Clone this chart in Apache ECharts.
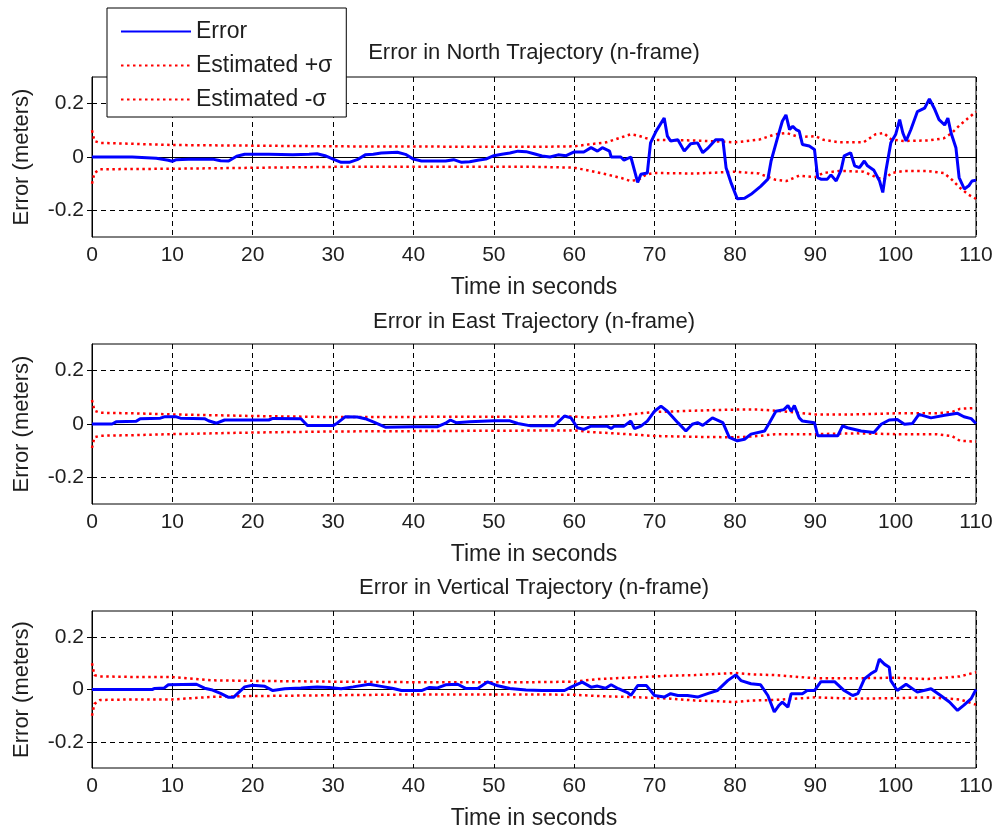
<!DOCTYPE html>
<html>
<head>
<meta charset="utf-8">
<title>Trajectory errors (n-frame)</title>
<script src="https://cdn.jsdelivr.net/npm/echarts@6/dist/echarts.min.js"></script>
<style>
  html, body { margin: 0; padding: 0; background: #fff; }
  #chart { width: 998px; height: 831px; }
</style>
</head>
<body>
<div id="chart"></div>
<script>
// ---- North ----
const northT = [0, 5, 5.2, 8, 8.2, 9.5, 10, 10.5, 12, 15, 16, 17, 18, 19, 22, 25, 27, 28, 29, 30, 31, 32, 33, 34, 35, 36, 38, 39, 40, 41, 44, 45, 46, 47, 48, 49, 50, 51, 52, 53, 54, 55, 56, 57, 58, 59, 60, 61.2, 62.1, 62.9, 63.5, 64.4, 64.6, 65.8, 66.2, 67.05, 67.5, 67.9, 68.3, 69.1, 69.5, 70.2, 71.2, 71.6, 72, 72.9, 73.7, 74.5, 75.35, 76, 76.6, 77.6, 78.5, 78.9, 79.5, 80.3, 81.2, 82, 83.2, 84.1, 84.5, 85.3, 85.9, 86.35, 86.8, 87.2, 87.6, 88, 88.4, 89.25, 89.9, 90.3, 90.7, 91.5, 91.95, 92.6, 93.2, 93.6, 94.4, 94.9, 95.5, 96.1, 96.5, 97.3, 98, 98.4, 98.8, 99.4, 100, 100.5, 100.9, 101.3, 101.9, 102.7, 103.6, 104.2, 104.8, 105.4, 106.1, 106.5, 106.9, 107.5, 107.9, 108.55, 109.1, 109.5, 110];
const northErr = [0, 0, -0.005, -0.005, -0.01, -0.012, -0.016, -0.01, -0.008, -0.008, -0.014, -0.015, 0.003, 0.01, 0.01, 0.008, 0.01, 0.012, 0.005, -0.008, -0.02, -0.02, -0.01, 0.008, 0.01, 0.015, 0.018, 0.01, -0.008, -0.015, -0.015, -0.01, -0.02, -0.018, -0.012, -0.008, 0.005, 0.01, 0.015, 0.022, 0.02, 0.012, 0.004, 0, 0.008, 0.005, 0.019, 0.019, 0.035, 0.022, 0.035, 0.022, 0, 0, -0.012, 0, -0.05, -0.095, -0.065, -0.06, 0.053, 0.097, 0.146, 0.078, 0.06, 0.065, 0.022, 0.05, 0.053, 0.016, 0.032, 0.065, 0.065, -0.04, -0.095, -0.157, -0.155, -0.14, -0.11, -0.083, -0.015, 0.072, 0.134, 0.158, 0.103, 0.115, 0.103, 0.097, 0.047, 0.041, 0.028, -0.077, -0.083, -0.083, -0.067, -0.09, -0.05, 0.004, 0.016, -0.033, -0.04, -0.015, -0.033, -0.05, -0.09, -0.133, -0.05, 0.053, 0.084, 0.14, 0.09, 0.06, 0.103, 0.17, 0.183, 0.218, 0.183, 0.14, 0.12, 0.146, 0.09, 0.035, -0.077, -0.12, -0.108, -0.09, -0.087];
const northSigT = [0, 0.3, 1, 10, 30, 55, 60, 62, 64, 66, 67, 68, 69, 70, 75, 78, 80, 83, 85, 86.4, 88, 90, 91, 93, 96, 97.5, 98.5, 99.5, 101, 104, 106, 107, 108, 109, 110];
const northSigUp = [0.1, 0.06, 0.053, 0.045, 0.04, 0.038, 0.04, 0.048, 0.055, 0.075, 0.085, 0.08, 0.07, 0.064, 0.062, 0.058, 0.055, 0.065, 0.085, 0.09, 0.075, 0.078, 0.065, 0.055, 0.055, 0.085, 0.09, 0.065, 0.06, 0.062, 0.07, 0.09, 0.12, 0.145, 0.17];
const northSigLo = [-0.1, -0.06, -0.046, -0.044, -0.037, -0.037, -0.04, -0.052, -0.065, -0.08, -0.09, -0.085, -0.065, -0.06, -0.062, -0.058, -0.055, -0.062, -0.085, -0.09, -0.07, -0.075, -0.06, -0.052, -0.055, -0.075, -0.085, -0.06, -0.052, -0.053, -0.06, -0.085, -0.115, -0.14, -0.157];

// ---- East ----
const eastT = [0, 2.5, 3, 5.5, 6, 8.5, 9, 10.5, 11, 14, 14.5, 15.5, 16.5, 22, 22.5, 26, 26.8, 30, 30.5, 31.5, 33, 34, 35, 36.5, 40, 43, 44, 44.6, 45.3, 47, 50, 52, 53, 54.6, 57.5, 58.8, 59.6, 60.4, 61.2, 62.1, 64.1, 64.6, 65, 66.2, 67.05, 67.5, 68.3, 69.1, 70, 70.8, 71.6, 72.9, 73.9, 74.7, 75.35, 76, 77.2, 78.5, 79.3, 80.3, 81.2, 82, 83.7, 84.3, 85.1, 86.1, 86.6, 87, 87.4, 88, 88.4, 89.9, 90.3, 92.8, 93.4, 94, 95.7, 97.3, 98.2, 99.2, 100.2, 101.1, 102.1, 102.9, 104.4, 106.1, 107.7, 108.5, 109.4, 110];
const eastErr = [0, 0, 0.008, 0.01, 0.02, 0.022, 0.027, 0.027, 0.022, 0.02, 0.012, 0.003, 0.015, 0.015, 0.021, 0.02, -0.006, -0.006, 0.003, 0.027, 0.026, 0.02, 0.008, -0.012, -0.01, -0.01, 0.003, 0.015, 0.005, 0.008, 0.012, 0.012, 0.002, -0.007, -0.007, 0.03, 0.023, -0.014, -0.02, -0.008, -0.008, -0.017, -0.008, -0.008, 0.011, -0.017, -0.008, 0.011, 0.048, 0.067, 0.048, 0.005, -0.026, -0.001, 0.005, -0.005, 0.023, 0.005, -0.05, -0.063, -0.057, -0.038, -0.026, 0.005, 0.048, 0.054, 0.069, 0.048, 0.069, 0.023, 0.011, 0.005, -0.044, -0.044, -0.007, -0.014, -0.026, -0.032, -0.001, 0.015, 0.017, -0.001, 0.002, 0.036, 0.023, 0.033, 0.04, 0.027, 0.02, 0.002];
const eastSigT = [0, 0.3, 1, 5, 10, 20, 30, 60, 62, 65, 70, 75, 80, 83, 85, 90, 95, 100, 105, 107, 108, 110];
const eastSigUp = [0.09, 0.05, 0.042, 0.04, 0.036, 0.03, 0.026, 0.028, 0.024, 0.03, 0.045, 0.05, 0.054, 0.054, 0.05, 0.036, 0.036, 0.04, 0.04, 0.045, 0.057, 0.06];
const eastSigLo = [-0.09, -0.05, -0.044, -0.042, -0.038, -0.032, -0.028, -0.024, -0.03, -0.035, -0.045, -0.048, -0.05, -0.045, -0.038, -0.038, -0.035, -0.038, -0.038, -0.045, -0.063, -0.066];

// ---- Vertical ----
const vertT = [0, 7.5, 7.8, 9, 9.5, 13, 14, 15, 16, 17, 17.6, 19, 20, 21.5, 22.5, 24, 26, 28, 29.5, 31, 32.5, 34.5, 36, 37.5, 38.5, 41, 42, 43, 44, 45.5, 46.5, 48, 49.2, 50.5, 52, 54, 56, 58.8, 59, 59.6, 61, 62.1, 62.9, 63.9, 64.6, 65.5, 66.7, 67.05, 67.9, 69, 70, 71.2, 72, 72.9, 74.1, 75.35, 76.6, 77.8, 79.1, 80.1, 80.75, 82, 83.2, 84.1, 84.9, 85.5, 85.9, 86.6, 87, 88.4, 89, 89.9, 90.7, 92.4, 93.6, 94.65, 95.3, 96.1, 96.9, 97.55, 97.97, 98.6, 99.2, 99.4, 100.2, 101.3, 102.7, 104.4, 105.6, 106.7, 107.7, 108.5, 109.4, 110];
const vertErr = [0, 0, 0.004, 0.006, 0.018, 0.02, 0.005, -0.002, -0.015, -0.03, -0.03, 0.01, 0.016, 0.012, -0.004, 0.003, 0.006, 0.01, 0.008, 0.003, 0.01, 0.02, 0.012, 0.004, -0.004, -0.004, 0.008, 0.006, 0.018, 0.02, 0.004, 0.004, 0.029, 0.014, 0.004, -0.002, -0.004, -0.004, -0.01, 0.009, 0.028, 0.009, 0.013, 0.005, 0.018, 0.003, -0.013, -0.023, 0.015, 0.015, -0.023, -0.029, -0.016, -0.023, -0.023, -0.029, -0.016, -0.004, 0.034, 0.056, 0.034, 0.022, 0.018, -0.023, -0.086, -0.06, -0.048, -0.067, -0.016, -0.016, -0.004, -0.004, 0.03, 0.03, -0.004, -0.023, -0.016, 0.04, 0.06, 0.072, 0.116, 0.097, 0.085, 0.034, -0.004, 0.02, -0.01, 0.003, -0.023, -0.048, -0.08, -0.06, -0.035, 0];
const vertSigT = [0, 0.3, 1, 5, 10, 15, 20, 30, 40, 55, 60, 63, 68, 72, 75, 78, 80, 82, 85, 90, 95, 100, 104, 108, 110];
const vertSigUp = [0.1, 0.055, 0.05, 0.048, 0.048, 0.035, 0.033, 0.03, 0.028, 0.028, 0.03, 0.04, 0.047, 0.053, 0.055, 0.06, 0.063, 0.058, 0.055, 0.043, 0.043, 0.045, 0.04, 0.05, 0.066];
const vertSigLo = [-0.1, -0.055, -0.04, -0.038, -0.038, -0.028, -0.025, -0.022, -0.019, -0.019, -0.02, -0.025, -0.03, -0.035, -0.042, -0.045, -0.048, -0.042, -0.04, -0.03, -0.035, -0.033, -0.03, -0.038, -0.058];

const titles = [
  "Error in North Trajectory (n-frame)",
  "Error in East Trajectory (n-frame)",
  "Error in Vertical Trajectory (n-frame)",
];
const yTicks = [-0.2, 0, 0.2];

const textColor = "#1e1e1e";
const font = "Arial, 'Liberation Sans', sans-serif";
const gridTops = [77, 344, 611];
const titleTops = [37, 306, 572];

const panels = [
  { t: northT, err: northErr, sigT: northSigT, up: northSigUp, lo: northSigLo },
  { t: eastT, err: eastErr, sigT: eastSigT, up: eastSigUp, lo: eastSigLo },
  { t: vertT, err: vertErr, sigT: vertSigT, up: vertSigUp, lo: vertSigLo },
];

const pairs = (t, v) => t.map((x, i) => [x, v[i]]);
const gridDash = { color: "#000", type: [5, 4], width: 1 };

const xAxes = [];
const yAxes = [];
const series = [];

panels.forEach((p, i) => {
  xAxes.push({
    type: "value", gridIndex: i, min: 0, max: 110, interval: 10,
    name: "Time in seconds", nameLocation: "middle", nameGap: 39,
    nameTextStyle: { fontSize: 23, color: textColor, fontFamily: font },
    axisLine: { lineStyle: { color: "#000", width: 1 } },
    axisTick: { inside: true, length: 5, lineStyle: { color: "#000" } },
    axisLabel: { fontSize: 21, color: textColor, fontFamily: font, margin: 8 },
    splitLine: { show: true, lineStyle: gridDash },
  });
  xAxes.push({
    type: "value", gridIndex: i, position: "top", min: 0, max: 110, interval: 10,
    axisLine: { show: false },
    axisTick: { inside: true, length: 5, lineStyle: { color: "#000" } },
    axisLabel: { show: false },
    splitLine: { show: false },
  });
  yAxes.push({
    type: "value", gridIndex: i, min: -0.3, max: 0.3,
    name: "Error (meters)", nameLocation: "middle", nameGap: 59,
    nameTextStyle: { fontSize: 22, color: textColor, fontFamily: font },
    axisLine: { show: true, lineStyle: { color: "#000", width: 1 } },
    axisTick: { show: true, inside: true, length: 5, customValues: yTicks, lineStyle: { color: "#000" } },
    axisLabel: { fontSize: 21, color: textColor, fontFamily: font, margin: 8, customValues: yTicks },
    splitLine: { show: true, lineStyle: gridDash },
  });
  yAxes.push({
    type: "value", gridIndex: i, position: "right", min: -0.3, max: 0.3,
    axisLine: { show: false },
    axisTick: { show: true, inside: true, length: 5, customValues: yTicks, lineStyle: { color: "#000" } },
    axisLabel: { show: false, customValues: yTicks },
    splitLine: { show: false },
  });

  const sigStyle = { color: "#ff0000", width: 2.5, type: [2.5, 3.5] };
  series.push({
    name: "Estimated +σ", type: "line", xAxisIndex: i * 2, yAxisIndex: i * 2,
    data: pairs(p.sigT, p.up), symbol: "none", lineStyle: sigStyle,
    itemStyle: { color: "#ff0000" }, z: 2,
  });
  series.push({
    name: "Estimated -σ", type: "line", xAxisIndex: i * 2, yAxisIndex: i * 2,
    data: pairs(p.sigT, p.lo), symbol: "none", lineStyle: sigStyle,
    itemStyle: { color: "#ff0000" }, z: 2,
  });
  series.push({
    name: "Error", type: "line", xAxisIndex: i * 2, yAxisIndex: i * 2,
    data: pairs(p.t, p.err), symbol: "none",
    lineStyle: { color: "#0000ff", width: 3 },
    itemStyle: { color: "#0000ff" }, z: 3,
  });
});

const chart = echarts.init(document.getElementById("chart"));
chart.setOption({
  backgroundColor: "#fff",
  animation: false,
  title: titles.map((txt, i) => ({
    text: txt, left: 529, top: titleTops[i], textAlign: "center",
    textStyle: { fontSize: 22, fontWeight: "normal", color: textColor, fontFamily: font },
  })),
  legend: {
    data: ["Error", "Estimated +σ", "Estimated -σ"],
    orient: "vertical", left: 107, top: 8,
    itemWidth: 70, itemHeight: 14, itemGap: 11,
    padding: [12, 14, 6, 13],
    backgroundColor: "#fff", borderColor: "#000", borderWidth: 1,
    itemStyle: { opacity: 0 },
    textStyle: { fontSize: 23, color: textColor, fontFamily: font, lineHeight: 21 },
    z: 10,
  },
  grid: gridTops.map((top) => ({
    left: 92, right: 22, top: top, height: 160,
    show: true, borderColor: "#000", borderWidth: 1, backgroundColor: "transparent",
  })),
  xAxis: xAxes,
  yAxis: yAxes,
  series: series,
});
</script>
</body>
</html>
